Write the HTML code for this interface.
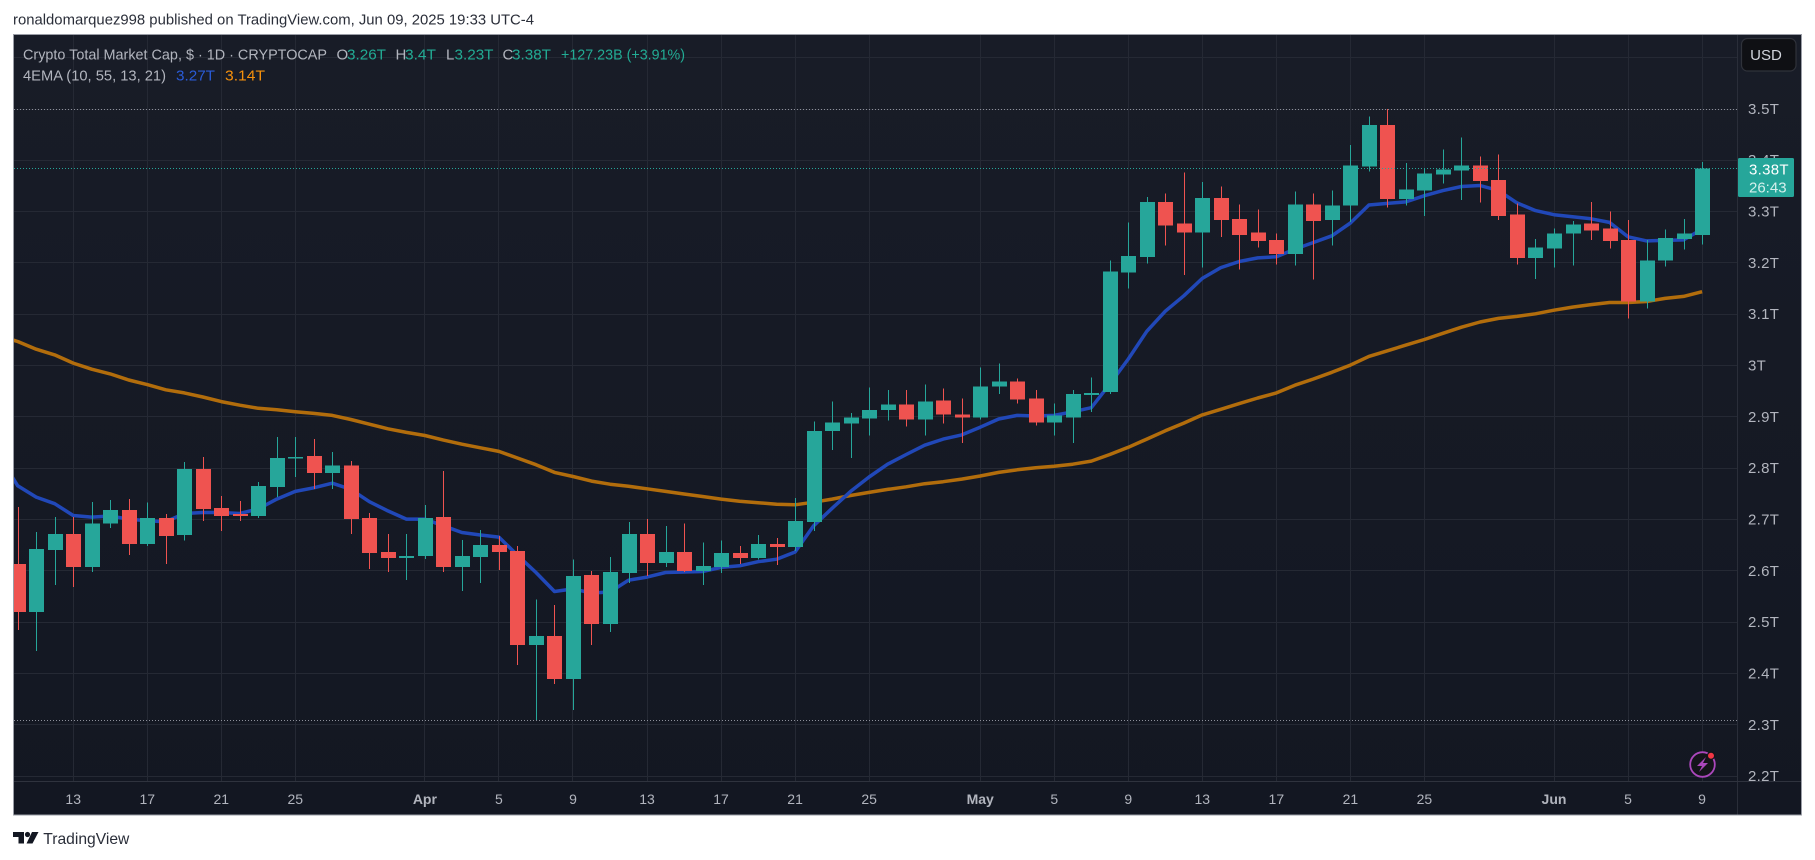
<!DOCTYPE html>
<html lang="en">
<head>
<meta charset="utf-8">
<title>Crypto Total Market Cap chart</title>
<style>
  html, body { margin: 0; padding: 0; background: #ffffff; }
  body { width: 1815px; height: 860px; overflow: hidden; }
  svg { display: block; font-family: "Liberation Sans", sans-serif; }
</style>
</head>
<body>
<svg id="chart" width="1815" height="860" viewBox="0 0 1815 860" xmlns="http://www.w3.org/2000/svg">
  <defs>
    <linearGradient id="bgGrad" x1="0" y1="0" x2="0" y2="1">
      <stop offset="0" stop-color="#181c27"/>
      <stop offset="1" stop-color="#131722"/>
    </linearGradient>
    <clipPath id="plotClip"><rect x="14" y="35" width="1723" height="746"/></clipPath>
  </defs>

  <rect x="0" y="0" width="1815" height="860" fill="#ffffff"/>
  <text x="13" y="24.5" font-size="15" fill="#2a2e39" textLength="521" lengthAdjust="spacingAndGlyphs">ronaldomarquez998 published on TradingView.com, Jun 09, 2025 19:33 UTC-4</text>

  <rect x="13.5" y="34.5" width="1788" height="780" fill="url(#bgGrad)"/>
  <g id="grid" shape-rendering="crispEdges"></g>
  <g id="plot" clip-path="url(#plotClip)"></g>

  <line x1="1737.5" y1="35" x2="1737.5" y2="815" stroke="#2a2e39" shape-rendering="crispEdges"/>
  <line x1="14" y1="781.5" x2="1801" y2="781.5" stroke="#2f333e" shape-rendering="crispEdges"/>
  <rect x="14" y="782" width="1723" height="33" fill="#131722"/>
  <g id="priceAxis"></g>
  <g id="timeAxis"></g>

  <rect x="13.5" y="34.5" width="1788" height="780.5" fill="none" stroke="#9a9da6" stroke-width="1" shape-rendering="crispEdges"/>

  <g font-size="15">
    <text x="23" y="59.3" fill="#b2b5be" textLength="304" lengthAdjust="spacingAndGlyphs">Crypto Total Market Cap, $ · 1D · CRYPTOCAP</text>
    <text x="336.5" y="59.3" fill="#b2b5be">O</text>
    <text x="347" y="59.3" fill="#22ab94" textLength="39" lengthAdjust="spacingAndGlyphs">3.26T</text>
    <text x="395.5" y="59.3" fill="#b2b5be">H</text>
    <text x="405" y="59.3" fill="#22ab94" textLength="31" lengthAdjust="spacingAndGlyphs">3.4T</text>
    <text x="446" y="59.3" fill="#b2b5be">L</text>
    <text x="454.5" y="59.3" fill="#22ab94" textLength="39" lengthAdjust="spacingAndGlyphs">3.23T</text>
    <text x="502.5" y="59.3" fill="#b2b5be">C</text>
    <text x="512" y="59.3" fill="#22ab94" textLength="39" lengthAdjust="spacingAndGlyphs">3.38T</text>
    <text x="561" y="59.3" fill="#22ab94" textLength="124" lengthAdjust="spacingAndGlyphs">+127.23B (+3.91%)</text>
  </g>
  <g font-size="15">
    <text x="23" y="80.5" fill="#b2b5be" textLength="143" lengthAdjust="spacingAndGlyphs">4EMA (10, 55, 13, 21)</text>
    <text x="176" y="80.5" fill="#2a5bd7" textLength="39" lengthAdjust="spacingAndGlyphs">3.27T</text>
    <text x="225" y="80.5" fill="#f5900c" textLength="40" lengthAdjust="spacingAndGlyphs">3.14T</text>
  </g>

  <g>
    <rect x="1741.5" y="38.5" width="54.5" height="32.5" rx="6" fill="#0f1014" stroke="#2f323a" stroke-width="1.2"/>
    <text x="1766" y="60" font-size="15" fill="#d1d4dc" text-anchor="middle">USD</text>
  </g>

  <g>
    <circle cx="1702.5" cy="764.5" r="12.3" fill="#14141a" stroke="#ab47bc" stroke-width="1.8"/>
    <path d="M1706 757 L1697 766 L1702 766 L1699 772 L1708 763 L1703 763 Z" fill="#ab47bc"/>
    <circle cx="1711" cy="755.7" r="3.6" fill="#f23645" stroke="#14141a" stroke-width="1.2"/>
  </g>

  <g>
    <path d="M13 832 H24 V843.5 H18.5 V837 H13 Z" fill="#131722"/>
    <circle cx="27.5" cy="834.5" r="2.6" fill="#131722"/>
    <path d="M32 832 H38.5 L32.5 843.5 H26.5 Z" fill="#131722"/>
    <text x="43.3" y="844" font-size="16" fill="#2a2e39" textLength="86" lengthAdjust="spacingAndGlyphs">TradingView</text>
  </g>
</svg>

<script>
const dates = ['Mar 09','Mar 10','Mar 11','Mar 12','Mar 13','Mar 14','Mar 15','Mar 16','Mar 17','Mar 18','Mar 19','Mar 20','Mar 21','Mar 22','Mar 23','Mar 24','Mar 25','Mar 26','Mar 27','Mar 28','Mar 29','Mar 30','Mar 31',
'Apr 01','Apr 02','Apr 03','Apr 04','Apr 05','Apr 06','Apr 07','Apr 08','Apr 09','Apr 10','Apr 11','Apr 12','Apr 13','Apr 14','Apr 15','Apr 16','Apr 17','Apr 18','Apr 19','Apr 20','Apr 21','Apr 22','Apr 23','Apr 24','Apr 25','Apr 26','Apr 27','Apr 28','Apr 29','Apr 30',
'May 01','May 02','May 03','May 04','May 05','May 06','May 07','May 08','May 09','May 10','May 11','May 12','May 13','May 14','May 15','May 16','May 17','May 18','May 19','May 20','May 21','May 22','May 23','May 24','May 25','May 26','May 27','May 28','May 29','May 30','May 31',
'Jun 01','Jun 02','Jun 03','Jun 04','Jun 05','Jun 06','Jun 07','Jun 08','Jun 09'];

const opens = [2.61,2.614,2.520,2.641,2.672,2.608,2.692,2.719,2.653,2.703,2.670,2.799,2.723,2.711,2.707,2.764,2.820,2.824,2.791,2.805,2.703,2.637,2.625,
2.629,2.705,2.608,2.627,2.651,2.639,2.456,2.473,2.390,2.592,2.497,2.596,2.672,2.616,2.637,2.600,2.608,2.635,2.625,2.653,2.647,2.695,2.873,2.887,2.897,2.914,2.924,2.895,2.932,2.905,
2.899,2.959,2.969,2.936,2.889,2.899,2.943,2.949,3.181,3.212,3.319,3.277,3.259,3.327,3.286,3.259,3.245,3.218,3.314,3.284,3.312,3.388,3.469,3.325,3.341,3.372,3.380,3.390,3.362,3.294,3.210,
3.228,3.257,3.277,3.267,3.245,3.125,3.205,3.247,3.255];

const highs = [2.70,2.725,2.676,2.705,2.705,2.734,2.738,2.740,2.733,2.711,2.812,2.822,2.746,2.736,2.773,2.861,2.861,2.857,2.832,2.814,2.713,2.672,2.672,
2.729,2.795,2.660,2.680,2.668,2.649,2.544,2.534,2.622,2.600,2.627,2.695,2.701,2.688,2.692,2.655,2.659,2.649,2.670,2.664,2.742,2.891,2.930,2.908,2.957,2.953,2.953,2.963,2.955,2.936,
2.996,3.004,2.975,2.953,2.926,2.953,2.977,3.205,3.279,3.329,3.335,3.376,3.358,3.349,3.314,3.304,3.257,3.339,3.335,3.341,3.430,3.485,3.500,3.395,3.384,3.421,3.444,3.407,3.411,3.316,3.247,
3.267,3.282,3.319,3.300,3.284,3.245,3.265,3.286,3.397];

const lows = [2.58,2.485,2.444,2.573,2.569,2.598,2.684,2.631,2.649,2.614,2.659,2.697,2.678,2.697,2.703,2.744,2.783,2.760,2.760,2.672,2.604,2.598,2.582,
2.623,2.598,2.561,2.577,2.602,2.417,2.309,2.380,2.329,2.456,2.481,2.577,2.590,2.608,2.598,2.573,2.596,2.614,2.622,2.612,2.639,2.678,2.836,2.820,2.864,2.893,2.881,2.864,2.887,2.849,
2.895,2.945,2.926,2.883,2.864,2.849,2.910,2.945,3.150,3.199,3.234,3.177,3.191,3.251,3.187,3.230,3.197,3.195,3.168,3.234,3.280,3.378,3.308,3.312,3.292,3.355,3.323,3.318,3.284,3.197,3.169,
3.191,3.195,3.245,3.228,3.092,3.111,3.193,3.226,3.236];

const closes = [2.66,2.520,2.643,2.672,2.608,2.692,2.719,2.653,2.703,2.668,2.799,2.721,2.707,2.707,2.766,2.820,2.822,2.791,2.805,2.701,2.635,2.625,2.629,
2.703,2.608,2.629,2.651,2.637,2.456,2.473,2.390,2.590,2.497,2.598,2.672,2.616,2.637,2.600,2.610,2.635,2.625,2.653,2.647,2.697,2.873,2.889,2.899,2.914,2.924,2.895,2.930,2.905,2.899,
2.959,2.969,2.934,2.889,2.903,2.945,2.947,3.183,3.214,3.319,3.273,3.259,3.327,3.284,3.255,3.243,3.218,3.314,3.282,3.312,3.390,3.469,3.325,3.343,3.374,3.382,3.390,3.360,3.292,3.210,3.230,
3.257,3.275,3.263,3.243,3.125,3.205,3.249,3.257,3.384];

const emaFast = [2.824,2.766,2.744,2.731,2.708,2.705,2.707,2.701,2.698,2.696,2.712,2.714,2.714,2.712,2.721,2.740,2.755,2.762,2.771,2.759,2.735,2.717,2.701,
2.701,2.688,2.675,2.670,2.666,2.631,2.597,2.560,2.565,2.557,2.559,2.582,2.588,2.597,2.598,2.599,2.607,2.610,2.618,2.623,2.637,2.688,2.722,2.755,2.783,2.808,2.827,2.845,2.857,2.865,
2.880,2.896,2.903,2.902,2.903,2.910,2.918,2.964,3.013,3.067,3.106,3.136,3.170,3.191,3.203,3.210,3.212,3.227,3.240,3.253,3.278,3.313,3.316,3.319,3.331,3.341,3.349,3.351,3.341,3.317,3.302,
3.294,3.290,3.286,3.279,3.251,3.243,3.244,3.245,3.266];

const emaSlow = [3.058,3.047,3.032,3.021,3.005,2.993,2.984,2.972,2.963,2.953,2.947,2.939,2.930,2.923,2.917,2.914,2.910,2.907,2.903,2.895,2.886,2.877,2.870,
2.864,2.855,2.847,2.840,2.833,2.820,2.807,2.792,2.784,2.775,2.769,2.765,2.760,2.755,2.750,2.745,2.740,2.736,2.733,2.730,2.729,2.734,2.740,2.747,2.753,2.759,2.764,2.770,2.774,2.779,
2.785,2.792,2.797,2.801,2.804,2.808,2.814,2.827,2.841,2.857,2.873,2.888,2.904,2.915,2.926,2.937,2.947,2.962,2.974,2.987,3.001,3.018,3.029,3.040,3.051,3.063,3.075,3.085,3.092,3.096,3.101,
3.108,3.114,3.119,3.123,3.123,3.125,3.131,3.135,3.144];

const priceTicks = [3.6,3.5,3.4,3.3,3.2,3.1,3.0,2.9,2.8,2.7,2.6,2.5,2.4,2.3,2.2];
const timeTickDates = ['Mar 13','Mar 17','Mar 21','Mar 25','Apr 01','Apr 05','Apr 09','Apr 13','Apr 17','Apr 21','Apr 25','May 01','May 05','May 09','May 13','May 17','May 21','May 25','Jun 01','Jun 05','Jun 09'];
const timeTickLabels = ['13','17','21','25','Apr','5','9','13','17','21','25','May','5','9','13','17','21','25','Jun','5','9'];
const countdownText = '26:43';

const NS = 'http://www.w3.org/2000/svg';
const UP = '#26a69a';
const DOWN = '#ef5350';

function xScale(i) { return 73.2 + 18.51 * (i - dates.indexOf('Mar 13')); }
function yScale(p) { return 109 + (3.5 - p) * 513.3; }

function make(tag, attrs, parent) {
  const el = document.createElementNS(NS, tag);
  for (const k in attrs) el.setAttribute(k, attrs[k]);
  parent.appendChild(el);
  return el;
}

const grid = document.getElementById('grid');
const plot = document.getElementById('plot');
const priceAxis = document.getElementById('priceAxis');
const timeAxis = document.getElementById('timeAxis');

priceTicks.forEach(function (t) {
  const y = Math.floor(yScale(t)) + 0.5;
  const line = make('line', { x1: 14, x2: 1737, y1: y, y2: y, stroke: '#252934' }, grid);
  
  
});

timeTickDates.forEach(function (d) {
  const x = Math.floor(xScale(dates.indexOf(d))) + 0.5;
  const line = make('line', { x1: x, x2: x, y1: 35, y2: 781, stroke: '#252934' }, grid);
  
  
});

function drawLine(values, color, name) {
  const pts = values.map(function (v, i) { return xScale(i).toFixed(1) + ',' + yScale(v).toFixed(1); }).join(' ');
  const line = make('polyline', { points: pts, fill: 'none', stroke: color, 'stroke-width': 3.5, 'stroke-linejoin': 'round' }, plot);
  
  
}
drawLine(emaSlow, '#b26d0c', 'ema-slow-line');
drawLine(emaFast, '#2148b8', 'ema-fast-line');

const candleGroup = make('g', { 'shape-rendering': 'crispEdges' }, plot);



dates.forEach(function (d, i) {
  const color = closes[i] >= opens[i] ? UP : DOWN;
  const cx = Math.round(xScale(i));
  const wick = make('rect', { x: cx, y: yScale(highs[i]), width: 1, height: Math.max(1, yScale(lows[i]) - yScale(highs[i])), fill: color }, candleGroup);
  
  
  const top = Math.min(yScale(opens[i]), yScale(closes[i]));
  const bottom = Math.max(yScale(opens[i]), yScale(closes[i]));
  const body = make('rect', { x: cx - 7, y: top, width: 15, height: Math.max(1.5, bottom - top), fill: color }, candleGroup);
  
  
});

const hiY = Math.floor(yScale(Math.max.apply(null, highs))) + 0.5;
const loY = Math.floor(yScale(Math.min.apply(null, lows))) + 0.5;
const lastClose = closes[closes.length - 1];
const lastY = Math.floor(yScale(lastClose)) + 0.5;

const hiLine = make('line', { x1: 14, x2: 1737, y1: hiY, y2: hiY, stroke: '#8d909a', 'stroke-dasharray': '1 2' }, plot);



const loLine = make('line', { x1: 14, x2: 1737, y1: loY, y2: loY, stroke: '#8d909a', 'stroke-dasharray': '1 2' }, plot);



const lastLine = make('line', { x1: 14, x2: 1737, y1: lastY, y2: lastY, stroke: '#26a69a', 'stroke-dasharray': '1 2' }, plot);



priceTicks.forEach(function (t) {
  const y = yScale(t);
  if (t >= 3.55) return;
  const label = make('text', { x: 1748, y: y + 4.9, 'font-size': 15, fill: '#b2b5be', 'letter-spacing': 0.3 }, priceAxis);
  
  
  label.textContent = (Number.isInteger(t) ? String(t) : t.toFixed(1)) + 'T';
});

const tagTop = lastY - 10.5;
const tag = make('rect', { x: 1738, y: tagTop, width: 56, height: 39, rx: 1.5, fill: UP }, priceAxis);



const tagPrice = make('text', { x: 1749, y: tagTop + 16.5, 'font-size': 15, fill: '#ffffff', 'letter-spacing': 0.3 }, priceAxis);


tagPrice.textContent = lastClose.toFixed(2) + 'T';

const tagTime = make('text', { x: 1749, y: tagTop + 34.5, 'font-size': 15, fill: '#d4efec' }, priceAxis);


tagTime.textContent = countdownText;

timeTickLabels.forEach(function (lab, k) {
  const x = xScale(dates.indexOf(timeTickDates[k]));
  const isMonth = isNaN(Number(lab));
  const label = make('text', { x: x, y: 804, 'font-size': 14, 'text-anchor': 'middle', fill: '#b2b5be', 'font-weight': isMonth ? 'bold' : 'normal' }, timeAxis);
  
  
  label.textContent = lab;
});
</script>
</body>
</html>
